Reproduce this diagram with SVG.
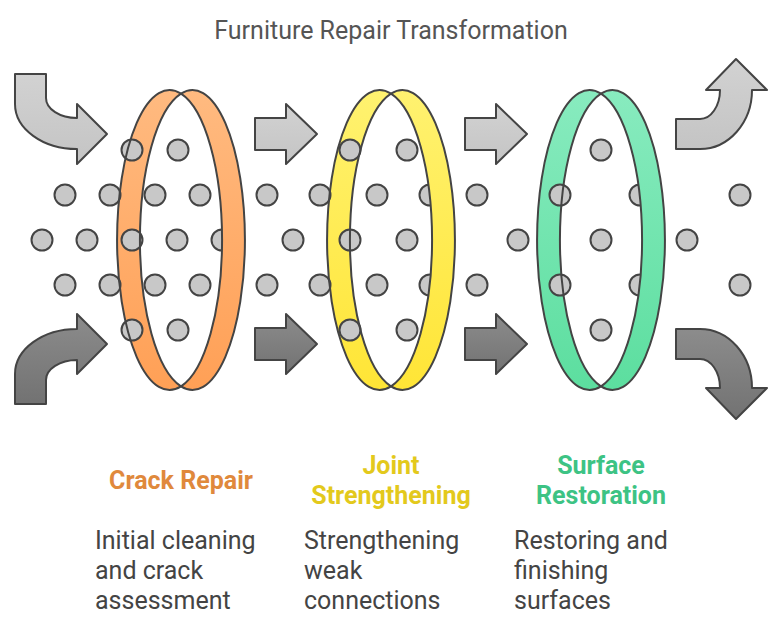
<svg xmlns="http://www.w3.org/2000/svg" width="783" height="631" viewBox="0 0 783 631">
<style>
.ln{stroke:#444;stroke-width:2;stroke-linejoin:round}
.dot{fill:#C8C8C8;stroke:#444;stroke-width:2}
.nof{fill:none}
.title{font-family:Roboto,"Liberation Sans",sans-serif;font-size:25px;fill:#555;text-anchor:middle}
.lbl{font-family:Roboto,"Liberation Sans",sans-serif;font-size:25px;font-weight:bold;text-anchor:middle}
.desc{font-family:Roboto,"Liberation Sans",sans-serif;font-size:25px;fill:#444}
</style>
<defs>
<linearGradient id="gLight" x1="0" y1="0" x2="0" y2="1"><stop offset="0" stop-color="#D2D2D2"/><stop offset="1" stop-color="#C4C4C4"/></linearGradient>
<linearGradient id="gDark" x1="0" y1="0" x2="0" y2="1"><stop offset="0" stop-color="#8C8C8C"/><stop offset="1" stop-color="#727272"/></linearGradient>
<linearGradient id="gOr" x1="0" y1="0" x2="0" y2="1"><stop offset="0" stop-color="#FFBA80"/><stop offset="1" stop-color="#FFA056"/></linearGradient>
<linearGradient id="gYe" x1="0" y1="0" x2="0" y2="1"><stop offset="0" stop-color="#FFF270"/><stop offset="1" stop-color="#FFE536"/></linearGradient>
<linearGradient id="gGr" x1="0" y1="0" x2="0" y2="1"><stop offset="0" stop-color="#88EBBF"/><stop offset="1" stop-color="#5CDE9F"/></linearGradient>
<path id="back" d="M181,93.6 A52.5,150 0 1 0 181,386.4 A52.5,150 0 0 1 181,93.6 Z"/>
<path id="front" d="M181,93.6 A52.5,150 0 1 1 181,386.4 A52.5,150 0 0 0 181,93.6 Z"/>
</defs>
<rect width="783" height="631" fill="#FFFFFF"/>
<text class="title" x="391" y="39">Furniture Repair Transformation</text>

<g id="connectors">
<path class="ln" fill="url(#gLight)" d="M15,74 L46,74 L46,98 A31,20 0 0 0 77,118 L77,104 L107,134 L77,164 L77,149 A62,45 0 0 1 15,104 Z"/>
<path class="ln" fill="url(#gDark)" d="M15,404 L46,404 L46,380 A31,20 0 0 1 77,360 L77,374 L107,344 L77,314 L77,329 A62,45 0 0 0 15,374 Z"/>
<path class="ln" fill="url(#gLight)" d="M255,118 L286,118 L286,104 L317,134 L286,164 L286,150 L255,150 Z"/>
<path class="ln" fill="url(#gDark)" d="M255,328 L286,328 L286,314 L317,344 L286,374 L286,360 L255,360 Z"/>
<path class="ln" fill="url(#gLight)" d="M465,118 L496,118 L496,104 L527,134 L496,164 L496,150 L465,150 Z"/>
<path class="ln" fill="url(#gDark)" d="M465,328 L496,328 L496,314 L527,344 L496,374 L496,360 L465,360 Z"/>
<path class="ln" fill="url(#gLight)" d="M676,119 L700,119 A20,29 0 0 0 720,90 L706,90 L736,59 L767,90 L752,90 A52,59 0 0 1 700,149 L676,149 Z"/>
<path class="ln" fill="url(#gDark)" d="M676,359 L700,359 A20,29 0 0 1 720,388 L706,388 L736,419 L767,388 L752,388 A52,59 0 0 0 700,329 L676,329 Z"/>
</g>

<g id="ring-crack-repair">
<use href="#back" fill="url(#gOr)"/>
<circle class="dot" cx="132" cy="150" r="10.5"/><circle class="dot" cx="178" cy="150" r="10.5"/>
<circle class="dot" cx="65" cy="195" r="10.5"/><circle class="dot" cx="110" cy="195" r="10.5"/><circle class="dot" cx="155" cy="195" r="10.5"/><circle class="dot" cx="200" cy="195" r="10.5"/>
<circle class="dot" cx="42" cy="240" r="10.5"/><circle class="dot" cx="87" cy="240" r="10.5"/><circle class="dot" cx="132" cy="240" r="10.5"/><circle class="dot" cx="177" cy="240" r="10.5"/><circle class="dot" cx="222" cy="240" r="10.5"/>
<circle class="dot" cx="65" cy="285" r="10.5"/><circle class="dot" cx="110" cy="285" r="10.5"/><circle class="dot" cx="155" cy="285" r="10.5"/><circle class="dot" cx="200" cy="285" r="10.5"/>
<circle class="dot" cx="132" cy="330" r="10.5"/><circle class="dot" cx="178" cy="330" r="10.5"/>
<use href="#back" class="ln nof"/>
<use href="#front" class="ln" fill="url(#gOr)"/>
</g>

<g id="ring-joint-strengthening">
<use href="#back" x="210" fill="url(#gYe)"/>
<circle class="dot" cx="350" cy="150" r="10.5"/><circle class="dot" cx="407" cy="150" r="10.5"/>
<circle class="dot" cx="267" cy="195" r="10.5"/><circle class="dot" cx="320" cy="195" r="10.5"/><circle class="dot" cx="377" cy="195" r="10.5"/><circle class="dot" cx="430" cy="195" r="10.5"/><circle class="dot" cx="477" cy="195" r="10.5"/>
<circle class="dot" cx="293" cy="240" r="10.5"/><circle class="dot" cx="350" cy="240" r="10.5"/><circle class="dot" cx="407" cy="240" r="10.5"/>
<circle class="dot" cx="267" cy="285" r="10.5"/><circle class="dot" cx="320" cy="285" r="10.5"/><circle class="dot" cx="377" cy="285" r="10.5"/><circle class="dot" cx="430" cy="285" r="10.5"/><circle class="dot" cx="477" cy="285" r="10.5"/>
<circle class="dot" cx="350" cy="330" r="10.5"/><circle class="dot" cx="407" cy="330" r="10.5"/>
<use href="#back" x="210" class="ln nof"/>
<use href="#front" x="210" class="ln" fill="url(#gYe)"/>
</g>

<g id="ring-surface-restoration">
<use href="#back" x="420" fill="url(#gGr)"/>
<circle class="dot" cx="601" cy="150" r="10.5"/>
<circle class="dot" cx="560" cy="195" r="10.5"/><circle class="dot" cx="640" cy="195" r="10.5"/><circle class="dot" cx="740" cy="195" r="10.5"/>
<circle class="dot" cx="518" cy="240" r="10.5"/><circle class="dot" cx="601" cy="240" r="10.5"/><circle class="dot" cx="687" cy="240" r="10.5"/>
<circle class="dot" cx="560" cy="285" r="10.5"/><circle class="dot" cx="640" cy="285" r="10.5"/><circle class="dot" cx="740" cy="285" r="10.5"/>
<circle class="dot" cx="601" cy="330" r="10.5"/>
<use href="#back" x="420" class="ln nof"/>
<use href="#front" x="420" class="ln" fill="url(#gGr)"/>
</g>

<g id="label-crack-repair">
<text class="lbl" x="181" y="489" fill="#E0893C">Crack Repair</text>
<text class="desc" x="95" y="549">Initial cleaning</text>
<text class="desc" x="95" y="579">and crack</text>
<text class="desc" x="95" y="609">assessment</text>
</g>
<g id="label-joint-strengthening">
<text class="lbl" x="391" y="474" fill="#E3C91C">Joint</text>
<text class="lbl" x="391" y="504" fill="#E3C91C">Strengthening</text>
<text class="desc" x="304" y="549">Strengthening</text>
<text class="desc" x="304" y="579">weak</text>
<text class="desc" x="304" y="609">connections</text>
</g>
<g id="label-surface-restoration">
<text class="lbl" x="601" y="474" fill="#3DC384">Surface</text>
<text class="lbl" x="601" y="504" fill="#3DC384">Restoration</text>
<text class="desc" x="514" y="549">Restoring and</text>
<text class="desc" x="514" y="579">finishing</text>
<text class="desc" x="514" y="609">surfaces</text>
</g>
</svg>
